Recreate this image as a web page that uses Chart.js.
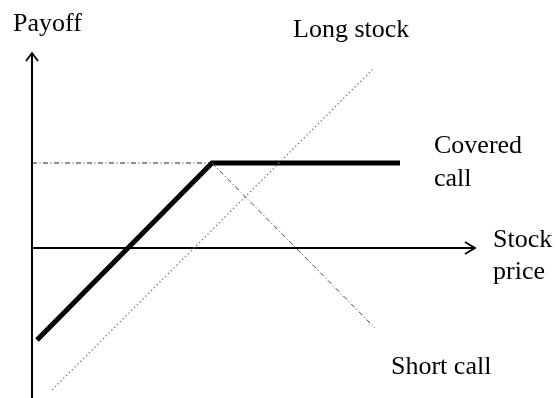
<!DOCTYPE html>
<html>
<head>
<meta charset="utf-8">
<script src="https://cdn.jsdelivr.net/npm/chart.js@4"></script>
<style>
  html, body { margin: 0; padding: 0; background: #fff; }
  #wrap { position: relative; width: 556px; height: 398px; }
  #c { position: absolute; left: 0; top: 0; }
  .lbl { position: absolute; font-family: "Liberation Serif", "Times New Roman", serif;
         font-size: 26px; line-height: 26px; color: #000; white-space: nowrap; }
</style>
</head>
<body>
<div id="wrap">
  <canvas id="c" width="556" height="398"></canvas>
  <div class="lbl" style="left:13px; top:10px;">Payoff</div>
  <div class="lbl" style="left:293px; top:16px;">Long stock</div>
  <div class="lbl" style="left:434px; top:128px; line-height:33px;">Covered<br>call</div>
  <div class="lbl" style="left:493px; top:223px; line-height:32px;">Stock<br>price</div>
  <div class="lbl" style="left:391px; top:353px;">Short call</div>
</div>
<script>
// payoff diagram, units: stock price on x, payoff on y (origin where the axes cross)
const strike = 180;
const premiumLevel = 85;

const coveredX = [5, strike, 368];
const coveredY = [-92, premiumLevel, premiumLevel];

const longX = [20, 341];
const longY = [-142, 179];

const shortX = [strike, 343];
const shortY = [premiumLevel, -80];

const guideX = [0, strike];
const guideY = [premiumLevel, premiumLevel];

const xAxisRange = [0, 443];
const yAxisRange = [-150, 195];

function pts(xs, ys) {
  return xs.map((x, i) => ({ x: x, y: ys[i] }));
}

// axes with open arrow heads
const axesPlugin = {
  id: 'axes',
  beforeDatasetsDraw(chart) {
    const ctx = chart.ctx;
    const sx = chart.scales.x, sy = chart.scales.y;
    const x0 = sx.getPixelForValue(0), y0 = sy.getPixelForValue(0);
    const xEnd = sx.getPixelForValue(xAxisRange[1]);
    const yTop = sy.getPixelForValue(yAxisRange[1]);
    const yBot = sy.getPixelForValue(yAxisRange[0]);
    ctx.save();
    ctx.strokeStyle = '#000';
    ctx.lineWidth = 2;
    ctx.beginPath();
    ctx.moveTo(x0, yBot); ctx.lineTo(x0, yTop);
    ctx.moveTo(x0, y0); ctx.lineTo(xEnd, y0);
    ctx.stroke();
    ctx.lineWidth = 1.8;
    ctx.beginPath();
    ctx.moveTo(x0 - 6, yTop + 8); ctx.lineTo(x0, yTop); ctx.lineTo(x0 + 6, yTop + 8);
    ctx.moveTo(xEnd - 10, y0 - 6); ctx.lineTo(xEnd, y0); ctx.lineTo(xEnd - 10, y0 + 6);
    ctx.stroke();
    ctx.restore();
  }
};

new Chart(document.getElementById('c'), {
  type: 'line',
  data: {
    datasets: [
      { label: 'Long stock', data: pts(longX, longY), borderColor: '#777',
        borderWidth: 1.2, borderDash: [1.5, 2.5], pointRadius: 0, fill: false },
      { label: 'Short call', data: pts(shortX, shortY), borderColor: '#444',
        borderWidth: 1, borderDash: [5, 2.5, 1, 2.5], pointRadius: 0, fill: false },
      { label: 'guide', data: pts(guideX, guideY), borderColor: '#222',
        borderWidth: 1, borderDash: [5, 2.5, 1, 2.5], pointRadius: 0, fill: false },
      { label: 'Covered call', data: pts(coveredX, coveredY), borderColor: '#000',
        borderWidth: 5, pointRadius: 0, fill: false, borderJoinStyle: 'miter' }
    ]
  },
  options: {
    responsive: false,
    animation: false,
    layout: { padding: 0 },
    plugins: { legend: { display: false }, tooltip: { enabled: false } },
    scales: {
      x: { type: 'linear', min: -32, max: 524, display: false },
      y: { type: 'linear', min: -150, max: 248, display: false }
    }
  },
  plugins: [axesPlugin]
});
</script>
</body>
</html>
